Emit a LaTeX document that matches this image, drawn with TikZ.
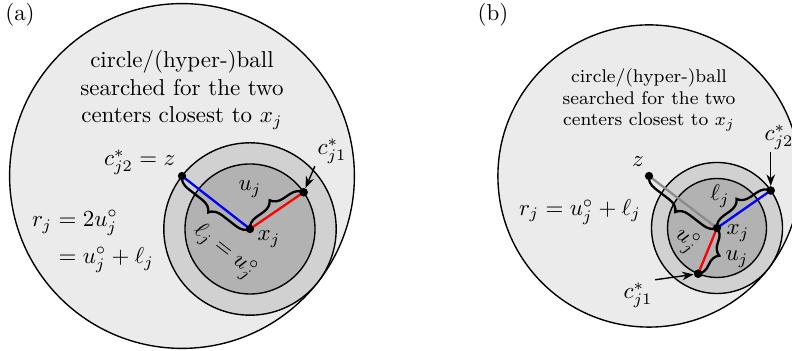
\documentclass[tikz,border=0pt]{standalone}
\usepackage{amsmath}
\usetikzlibrary{decorations.pathreplacing,arrows.meta,calc}

\begin{document}
\begin{tikzpicture}[
  x=0.435pt, y=0.435pt,
  ring/.style={draw=black, line width=0.6pt},
  dot/.style={circle, fill=black, inner sep=0pt, minimum size=3.6pt},
  brc/.style={decorate, decoration={brace, amplitude=5.5pt}, line width=1pt},
  seg/.style={line width=1pt},
  lbl/.style={inner sep=1pt},
  txt/.style={align=center, inner sep=0pt}
]
\colorlet{Cbig}{black!8}
\colorlet{Cmid}{black!18}
\colorlet{Cin}{black!30}
\useasboundingbox (0,0) rectangle (792,351);
\clip (0,0) rectangle (792,351);
%% PANEL (a)
\def\ra{86.2}
\def\ua{65}
\node[dot] (Za) at (182,175) {};
\node[dot] (Xa) at (250,122) {};
\draw[ring,fill=Cbig] (Za.center) circle (2*\ra);
\draw[ring,fill=Cmid] (Xa.center) circle (\ra);
\draw[ring,fill=Cin]  (Xa.center) circle (\ua);
\node[dot] (C1a) at ($(Xa)+(34.4:\ua)$) {};
\draw[seg,blue] (Za.center) -- (Xa.center);
\draw[seg,red]  (Xa.center) -- (C1a.center);
\draw[brc] (Xa.center) -- (Za.center);
\draw[brc] (Xa.center) -- (C1a.center);
\node[dot] at (Za) {};
\node[dot] at (Xa) {};
\node[dot] at (C1a) {};
\node[lbl] (La) at (20,336) {(a)};
\node[txt] (Ta) at (182,261) {circle/(hyper-)ball\\searched for the two\\centers closest to $x_j$};
\node[lbl,anchor=east] (Lza) at (178,189) {$c^*_{j2}=z$};
\node[lbl] (Lxa) at (269,112) {$x_j$};
\node[lbl] (Lua) at (250,162) {$u_j$};
\node[lbl,rotate=-38] (Lla) at (224,99) {$\ell_j=u^\circ_j$};
\node[lbl] (Lc1a) at (332,200) {$c^*_{j1}$};
\node[lbl] (Lra) at (93,111) {$\begin{aligned} r_j &= 2u^\circ_j\\ &= u^\circ_j+\ell_j\end{aligned}$};
\draw[-{Stealth[length=5pt]}, line width=0.6pt] (Lc1a.south west) -- (C1a);
%% PANEL (b)
\def\ob{85.6}
\def\lb{65.5}
\def\ub{49.5}
\node[dot] (Zb) at (649,175) {};
\node[dot] (Xb) at (717,123) {};
\draw[ring,fill=Cbig] (Zb.center) circle (\ob+\lb);
\draw[ring,fill=Cmid] (Xb.center) circle (\lb);
\draw[ring,fill=Cin]  (Xb.center) circle (\ub);
\node[dot] (C2b) at ($(Xb)+(34.9:\lb)$) {};
\node[dot] (C1b) at ($(Xb)+(247.6:\ub)$) {};
\draw[seg,black!45] (Zb.center) -- (Xb.center);
\draw[seg,blue] (Xb.center) -- (C2b.center);
\draw[seg,red]  (Xb.center) -- (C1b.center);
\draw[brc] (Xb.center) -- (Zb.center);
\draw[brc] (Xb.center) -- (C2b.center);
\draw[brc] (Xb.center) -- (C1b.center);
\node[dot] at (Zb) {};
\node[dot] at (Xb) {};
\node[dot] at (C2b) {};
\node[dot] at (C1b) {};
\node[lbl] (Lb) at (493,336) {(b)};
\node[txt,font=\footnotesize] (Tb) at (649,251) {circle/(hyper-)ball\\searched for the two\\centers closest to $x_j$};
\node[lbl] (Lzb) at (638,189) {$z$};
\node[lbl] (Lxb) at (738,118) {$x_j$};
\node[lbl] (Llb) at (720,155) {$\ell_j$};
\node[lbl] (Lub) at (737,92) {$u_j$};
\node[lbl,rotate=-38] (Lob) at (686,110) {$u^\circ_j$};
\node[lbl] (Lrb) at (580,139) {$r_j=u^\circ_j+\ell_j$};
\node[lbl] (Lc2b) at (779,214) {$c^*_{j2}$};
\node[lbl] (Lc1b) at (638,56) {$c^*_{j1}$};
\draw[-{Stealth[length=5pt]}, line width=0.6pt] (C2b |- Lc2b.south) -- (C2b);
\draw[-{Stealth[length=5pt]}, line width=0.6pt] (Lc1b.north east) -- (C1b);
\end{tikzpicture}
\end{document}
